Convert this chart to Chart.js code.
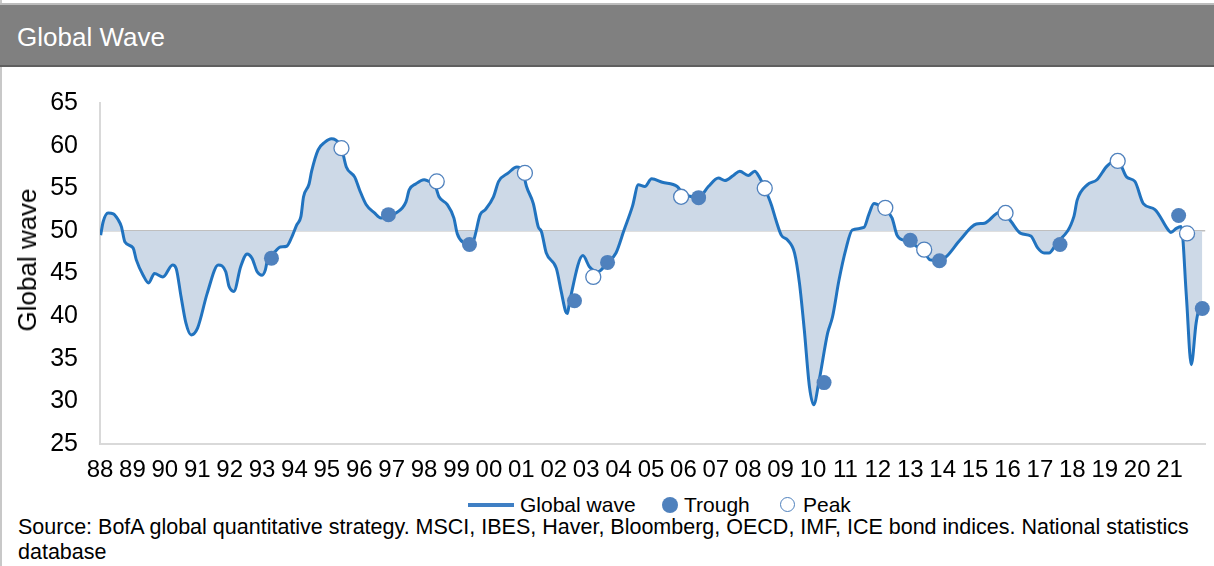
<!DOCTYPE html>
<html><head><meta charset="utf-8">
<script src="https://cdn.jsdelivr.net/npm/chart.js@4.4.1/dist/chart.umd.min.js"></script>
<style>
html,body{margin:0;padding:0;background:#fff;}
body{width:1214px;height:566px;position:relative;overflow:hidden;font-family:"Liberation Sans",Arial,sans-serif;color:#000;}
#frameL{position:absolute;left:0;top:0;width:2px;height:566px;background:#c8c8c8;}
#hdr{position:absolute;left:0;top:3px;width:1214px;height:60px;background:#808080;border-top:2px solid #bdbdbd;border-bottom:2px solid #5f5f5f;}
#hdrText{position:absolute;left:17px;top:24px;line-height:26px;font-size:26px;color:#fff;white-space:nowrap;}
#wrap{position:absolute;left:0;top:66px;width:1214px;height:424px;}
#yTitle{position:absolute;left:27px;top:260px;font-size:26px;line-height:30px;white-space:nowrap;transform:translate(-50%,-50%) rotate(-90deg);}
.lg{position:absolute;font-size:21px;line-height:22px;top:494px;white-space:nowrap;}
#lgLine{position:absolute;left:468px;top:503px;width:46px;height:4px;background:#3f7fc4;}
#lgTrough{position:absolute;left:662px;top:497px;width:16px;height:16px;border-radius:50%;background:#4f81bd;}
#lgPeak{position:absolute;left:780px;top:497px;width:13px;height:13px;border-radius:50%;background:#fff;border:1.5px solid #4f81bd;}
#src{position:absolute;left:18px;top:515px;font-size:21.5px;line-height:25px;width:1195px;}
</style></head>
<body>
<div id="frameL"></div>
<div id="hdr"></div>
<div id="hdrText">Global Wave</div>
<div id="wrap"><canvas id="c" width="1214" height="424"></canvas></div>
<div id="yTitle">Global wave</div>
<div id="lgLine"></div><div class="lg" style="left:520px">Global wave</div>
<div id="lgTrough"></div><div class="lg" style="left:684px">Trough</div>
<div id="lgPeak"></div><div class="lg" style="left:803px">Peak</div>
<div id="src">Source: BofA global quantitative strategy. MSCI, IBES, Haver, Bloomberg, OECD, IMF, ICE bond indices. National statistics<br>database</div>
<script>
// Global wave series (decimal year, value)
const waveDates = [1988.02,1988.10,1988.25,1988.41,1988.56,1988.66,1988.77,1989.02,1989.12,1989.33,1989.50,1989.68,1989.94,1990.24,1990.35,1990.50,1990.65,1990.81,1991.01,1991.31,1991.65,1991.88,1991.98,1992.13,1992.34,1992.54,1992.69,1992.85,1993.00,1993.10,1993.18,1993.41,1993.56,1993.76,1993.92,1994.07,1994.20,1994.28,1994.45,1994.53,1994.73,1994.94,1995.14,1995.26,1995.44,1995.60,1995.86,1996.01,1996.21,1996.47,1996.67,1996.90,1997.13,1997.44,1997.54,1997.74,1998.00,1998.15,1998.32,1998.46,1998.71,1998.92,1999.02,1999.22,1999.40,1999.53,1999.73,1999.89,2000.14,2000.30,2000.60,2000.86,2001.04,2001.16,2001.37,2001.52,2001.62,2001.77,2002.08,2002.23,2002.37,2002.42,2002.49,2002.90,2003.10,2003.36,2003.66,2003.92,2004.17,2004.43,2004.61,2004.81,2005.02,2005.35,2005.81,2006.00,2006.16,2006.47,2006.77,2007.08,2007.28,2007.54,2007.74,2008.00,2008.20,2008.36,2008.51,2008.71,2008.87,2009.02,2009.22,2009.43,2009.58,2009.73,2009.89,2010.02,2010.19,2010.45,2010.60,2010.80,2011.01,2011.21,2011.57,2011.72,2011.88,2011.98,2012.23,2012.44,2012.59,2012.79,2013.00,2013.19,2013.41,2013.61,2013.90,2014.12,2014.53,2015.04,2015.29,2015.65,2015.85,2016.11,2016.41,2016.72,2016.93,2017.13,2017.28,2017.49,2018.05,2018.15,2018.46,2018.76,2019.07,2019.27,2019.44,2019.68,2019.93,2020.19,2020.55,2020.96,2021.04,2021.21,2021.36,2021.52,2021.67,2021.82,2021.92,2022.01];
const waveValues = [49.5,51.1,52.1,52.0,51.3,50.5,48.7,48.0,46.6,44.8,43.9,45.0,44.6,46.0,45.6,42.3,39.2,37.8,38.6,42.7,46.0,45.2,43.5,42.9,45.8,47.3,46.8,45.2,44.8,45.4,46.8,47.6,48.1,48.2,49.3,50.7,51.7,54.0,55.5,57.0,59.5,60.4,60.8,60.7,59.9,57.5,56.3,54.8,53.1,52.1,51.5,51.8,52.1,53.4,54.8,55.5,56.0,55.8,55.5,54.0,53.1,51.5,49.7,48.6,48.4,48.9,51.9,52.5,54.0,55.8,56.8,57.5,57.0,55.2,53.2,50.5,49.9,47.4,45.6,42.9,40.5,40.3,41.7,47.1,45.8,45.2,46.3,47.4,50.1,52.9,55.4,55.2,56.1,55.7,55.2,54.3,54.1,53.9,55.2,56.2,55.9,56.5,57.0,56.5,57.0,56.2,55.0,53.1,51.1,49.5,48.9,47.4,43.9,38.4,31.7,29.6,32.5,38.0,39.9,44.2,47.8,50.1,50.4,51.9,53.2,53.1,52.5,51.5,49.5,48.9,48.7,48.2,47.7,46.6,46.5,47.0,48.9,50.8,50.9,52.0,52.3,51.1,49.7,49.4,48.0,47.4,47.4,48.4,51.7,53.6,55.4,56.0,57.6,58.1,58.0,56.3,55.8,53.2,52.5,50.1,49.8,50.3,50.5,42.3,34.3,39.2,40.9,41.1];

// Trough markers
const troughDates  = [1993.29,1996.90,1999.40,2002.64,2003.66,2006.47,2010.34,2013.00,2013.90,2017.62,2021.28,2022.01];
const troughValues = [46.8,51.9,48.4,41.8,46.3,53.9,32.2,48.9,46.5,48.4,51.8,40.9];

// Peak markers
const peakDates  = [1995.45,1998.39,2001.11,2003.22,2005.93,2008.51,2012.23,2013.43,2015.94,2019.40,2021.54];
const peakValues = [59.7,55.8,56.8,44.6,54.0,55.0,52.7,47.8,52.1,58.2,49.7];

// X tick labels (one per year)
const yearTicks  = [1988,1989,1990,1991,1992,1993,1994,1995,1996,1997,1998,1999,2000,2001,2002,2003,2004,2005,2006,2007,2008,2009,2010,2011,2012,2013,2014,2015,2016,2017,2018,2019,2020,2021];
const yearLabels = ['88','89','90','91','92','93','94','95','96','97','98','99','00','01','02','03','04','05','06','07','08','09','10','11','12','13','14','15','16','17','18','19','20','21'];

const FONT = '"Liberation Sans", Arial, sans-serif';
const pts = (xs, ys) => xs.map((x, i) => ({x: x, y: ys[i]}));

new Chart(document.getElementById('c'), {
  type: 'line',
  data: {
    datasets: [
      {
        type: 'scatter', label: 'Trough', data: pts(troughDates, troughValues),
        pointRadius: 7.5, pointHoverRadius: 7.5, pointBackgroundColor: '#4f81bd',
        pointBorderColor: '#4f81bd', pointBorderWidth: 0, order: 0, clip: false
      },
      {
        type: 'scatter', label: 'Peak', data: pts(peakDates, peakValues),
        pointRadius: 7.5, pointHoverRadius: 7.5, pointBackgroundColor: '#ffffff',
        pointBorderColor: '#4f81bd', pointBorderWidth: 1.3, order: 0, clip: false
      },
      {
        label: 'Global wave', data: pts(waveDates, waveValues),
        borderColor: '#2173bf', borderWidth: 3, pointRadius: 0,
        cubicInterpolationMode: 'monotone',
        fill: {value: 50}, backgroundColor: '#cdd9e7', order: 1
      }
    ]
  },
  options: {
    responsive: false, animation: false,
    layout: {padding: {top: 37, right: 0, left: 0, bottom: 0}},
    plugins: {legend: {display: false}, tooltip: {enabled: false}},
    scales: {
      x: {
        type: 'linear', min: 1988, max: 2022.10,
        afterBuildTicks: s => { s.ticks = yearTicks.map(v => ({value: v})); },
        afterFit: s => { s.height = 46; s.paddingLeft = 0; s.paddingRight = 0; },
        ticks: {
          autoSkip: false, maxRotation: 0, minRotation: 0, padding: 12,
          color: '#000', font: {family: FONT, size: 24},
          callback: (v, i) => yearLabels[i]
        },
        grid: {display: true, drawTicks: false, color: 'rgba(0,0,0,0)'},
        border: {display: true, color: '#d9d9d9', width: 2}
      },
      y: {
        min: 25, max: 65,
        afterFit: s => { s.width = 100; },
        ticks: {stepSize: 5, padding: 22, color: '#000', font: {family: FONT, size: 25}},
        grid: {
          drawTicks: false, lineWidth: 1.5,
          color: c => (c.tick && c.tick.value === 50) ? '#bfbfbf' : 'rgba(0,0,0,0)'
        },
        border: {display: true, color: '#d9d9d9', width: 2}
      }
    }
  }
});
</script>
</body></html>
